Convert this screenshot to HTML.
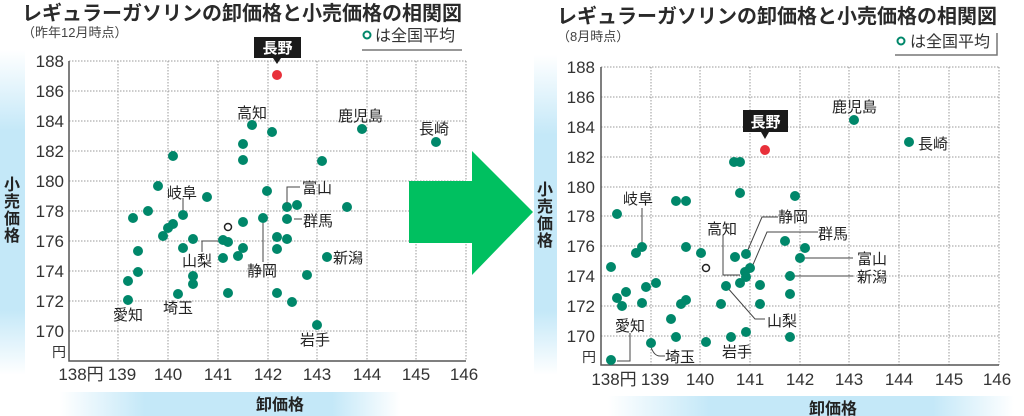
<!DOCTYPE html>
<html><head><meta charset="utf-8"><style>
body{margin:0;background:#fff;width:1024px;height:416px;overflow:hidden}
svg{display:block;font-family:"Liberation Sans","Noto Sans CJK JP",sans-serif}
.t{font-size:20px;font-weight:bold;fill:#2a2a2a}
.s{font-size:13px;fill:#444}
.tk{font-size:17px;fill:#333}
.lb{font-size:15px;fill:#222}
.g{stroke:#999;stroke-width:1;stroke-dasharray:1.5 1.5;fill:none}
.ax{stroke:#555;stroke-width:1.5;fill:none}
.ld{stroke:#444;stroke-width:1;fill:none}
.d circle{r:5}
.d{fill:#00876a}
</style></head><body>
<svg width="1024" height="416" viewBox="0 0 1024 416">
<defs>
<linearGradient id="vb" x1="0" y1="0" x2="0" y2="1"><stop offset="0" stop-color="#fff"/><stop offset="0.25" stop-color="#c4e8f8"/><stop offset="0.8" stop-color="#c4e8f8"/><stop offset="1" stop-color="#fff"/></linearGradient>
<linearGradient id="hb" x1="0" y1="0" x2="1" y2="0"><stop offset="0" stop-color="#fff"/><stop offset="0.25" stop-color="#c4e8f8"/><stop offset="0.8" stop-color="#c4e8f8"/><stop offset="1" stop-color="#fff"/></linearGradient>
</defs>
<!-- LEFT -->
<text x="22" y="20" class="t">レギュラーガソリンの卸価格と小売価格の相関図</text>
<text x="22" y="37" class="s">（昨年12月時点）</text>
<circle cx="367" cy="35" r="3.5" fill="none" stroke="#00876a" stroke-width="2"/>
<text x="375" y="41" style="font-size:16px;fill:#333">は全国平均</text>
<line x1="362" y1="50" x2="462" y2="50" stroke="#777" stroke-width="1.5"/>
<rect x="0" y="50" width="25" height="325" fill="url(#vb)"/>
<text x="12" y="190" class="lb" text-anchor="middle" style="font-size:16px;font-weight:bold">小</text>
<text x="12" y="207" class="lb" text-anchor="middle" style="font-size:16px;font-weight:bold">売</text>
<text x="12" y="224" class="lb" text-anchor="middle" style="font-size:16px;font-weight:bold">価</text>
<text x="12" y="241" class="lb" text-anchor="middle" style="font-size:16px;font-weight:bold">格</text>
<rect x="60" y="392" width="340" height="24" fill="url(#hb)"/>
<text x="280" y="410" text-anchor="middle" style="font-size:16px;font-weight:bold;fill:#222">卸価格</text>
<g class="g">
<path d="M69 61H466M69 91H466M69 121H466M69 151H466M69 181H466M69 211H466M69 241H466M69 271H466M69 301H466M69 331H466"/>
<path d="M118 61V361M168 61V361M218 61V361M268 61V361M317 61V361M367 61V361M416 61V361M466 61V361"/>
</g>
<path class="ax" d="M69 61V361H466"/>
<g class="tk" text-anchor="end">
<text x="64" y="67">188</text><text x="64" y="97">186</text><text x="64" y="127">184</text><text x="64" y="157">182</text><text x="64" y="187">180</text><text x="64" y="217">178</text><text x="64" y="247">176</text><text x="64" y="277">174</text><text x="64" y="307">172</text><text x="64" y="337">170</text>
</g>
<text x="52" y="357" class="tk" style="font-size:14px">円</text>
<g class="tk" text-anchor="middle">
<text x="81" y="380">138円</text><text x="122" y="380">139</text><text x="168" y="380">140</text><text x="218" y="380">141</text><text x="268" y="380">142</text><text x="317" y="380">143</text><text x="367" y="380">144</text><text x="416" y="380">145</text><text x="464" y="380">146</text>
</g>
<g class="d">
<circle cx="252" cy="125" r="5"/><circle cx="272" cy="132" r="5"/><circle cx="243" cy="144" r="5"/><circle cx="243" cy="160" r="5"/><circle cx="173" cy="156" r="5"/><circle cx="322" cy="161" r="5"/><circle cx="362" cy="129" r="5"/><circle cx="436" cy="142" r="5"/><circle cx="158" cy="186" r="5"/><circle cx="207" cy="197" r="5"/><circle cx="267" cy="191" r="5"/><circle cx="287" cy="207" r="5"/><circle cx="297" cy="205" r="5"/><circle cx="347" cy="207" r="5"/><circle cx="148" cy="211" r="5"/>
<circle cx="133" cy="218" r="5"/><circle cx="183" cy="215" r="5"/><circle cx="173" cy="224" r="5"/><circle cx="168" cy="228" r="5"/><circle cx="163" cy="236" r="5"/><circle cx="193" cy="239" r="5"/><circle cx="183" cy="248" r="5"/><circle cx="138" cy="251" r="5"/><circle cx="138" cy="272" r="5"/><circle cx="128" cy="281" r="5"/><circle cx="128" cy="300" r="5"/><circle cx="193" cy="276" r="5"/><circle cx="193" cy="284" r="5"/><circle cx="178" cy="294" r="5"/><circle cx="228" cy="293" r="5"/><circle cx="223" cy="240" r="5"/><circle cx="228" cy="242" r="5"/><circle cx="243" cy="222" r="5"/><circle cx="243" cy="248" r="5"/><circle cx="238" cy="256" r="5"/><circle cx="223" cy="258" r="5"/><circle cx="263" cy="218" r="5"/><circle cx="287" cy="219" r="5"/><circle cx="277" cy="237" r="5"/><circle cx="287" cy="239" r="5"/><circle cx="277" cy="249" r="5"/><circle cx="327" cy="257" r="5"/><circle cx="307" cy="275" r="5"/><circle cx="277" cy="293" r="5"/><circle cx="292" cy="302" r="5"/><circle cx="317" cy="325" r="5"/>
</g>
<circle cx="228" cy="227" r="3.5" fill="#fff" stroke="#222" stroke-width="1.5"/>
<circle cx="277" cy="75" r="5" fill="#e8303a"/>
<rect x="254" y="37" width="47" height="21" fill="#1a1a1a"/><path d="M273 58L277 64L281 58Z" fill="#1a1a1a"/>
<text x="277.5" y="53" text-anchor="middle" style="font-size:15px;font-weight:bold;fill:#fff">長野</text>
<g class="ld"><path d="M287 203V187H300"/><path d="M294 219H302"/><path d="M202 252V241H218"/><path d="M263 223V262"/><path d="M183 198V210"/></g>
<g class="lb">
<text x="237" y="118">高知</text><text x="338" y="121">鹿児島</text><text x="419" y="134">長崎</text><text x="167" y="198">岐阜</text><text x="302" y="193">富山</text><text x="303" y="226">群馬</text><text x="182" y="266">山梨</text><text x="247" y="276">静岡</text><text x="333" y="263">新潟</text><text x="113" y="320">愛知</text><text x="163" y="313">埼玉</text><text x="300" y="345">岩手</text>
</g>
<!-- ARROW -->
<path d="M409 181H472V151L533 212L472 275V243H409Z" fill="#00c060"/>
<!-- RIGHT -->
<text x="557" y="23" class="t">レギュラーガソリンの卸価格と小売価格の相関図</text>
<text x="557" y="41" class="s">（8月時点）</text>
<circle cx="901" cy="41" r="3.5" fill="none" stroke="#00876a" stroke-width="2"/>
<text x="910" y="47" style="font-size:16px;fill:#333">は全国平均</text>
<path d="M895 55H997V33" stroke="#777" stroke-width="1.5" fill="none"/>
<rect x="534" y="55" width="23" height="320" fill="url(#vb)"/>
<text x="545" y="195" class="lb" text-anchor="middle" style="font-size:16px;font-weight:bold">小</text>
<text x="545" y="212" class="lb" text-anchor="middle" style="font-size:16px;font-weight:bold">売</text>
<text x="545" y="229" class="lb" text-anchor="middle" style="font-size:16px;font-weight:bold">価</text>
<text x="545" y="246" class="lb" text-anchor="middle" style="font-size:16px;font-weight:bold">格</text>
<rect x="608" y="396" width="406" height="20" fill="url(#hb)"/>
<text x="833" y="414" text-anchor="middle" style="font-size:16px;font-weight:bold;fill:#222">卸価格</text>
<g class="g">
<path d="M601 67H999M601 97H999M601 127H999M601 157H999M601 187H999M601 216H999M601 246H999M601 276H999M601 306H999M601 336H999"/>
<path d="M651 67V365M700 67V365M750 67V365M800 67V365M849 67V365M899 67V365M949 67V365M999 67V365"/>
</g>
<path class="ax" d="M601 67V365H999"/>
<g class="tk" text-anchor="end">
<text x="595" y="73">188</text><text x="595" y="103">186</text><text x="595" y="133">184</text><text x="595" y="163">182</text><text x="595" y="193">180</text><text x="595" y="222">178</text><text x="595" y="252">176</text><text x="595" y="282">174</text><text x="595" y="312">172</text><text x="595" y="342">170</text>
</g>
<text x="582" y="362" class="tk" style="font-size:14px">円</text>
<g class="tk" text-anchor="middle">
<text x="614" y="385">138円</text><text x="655" y="385">139</text><text x="700" y="385">140</text><text x="750" y="385">141</text><text x="800" y="385">142</text><text x="849" y="385">143</text><text x="899" y="385">144</text><text x="949" y="385">145</text><text x="997" y="385">146</text>
</g>
<g class="ld">
<path d="M642 208V247"/><path d="M723 235V275H740"/><path d="M778 217H762L747 252"/><path d="M818 232H767L752 267"/><path d="M805 258H853"/><path d="M793 276H853"/><path d="M726 286L755 319H765"/><path d="M630 333V361H617"/><path d="M651 347Q654 356 660 356H665"/>
</g>
<g class="d">
<circle cx="854" cy="120" r="5"/><circle cx="909" cy="142" r="5"/><circle cx="734" cy="162" r="5"/><circle cx="740" cy="162" r="5"/><circle cx="740" cy="193" r="5"/><circle cx="795" cy="196" r="5"/><circle cx="676" cy="201" r="5"/><circle cx="686" cy="201" r="5"/>
<circle cx="617" cy="214" r="5"/><circle cx="642" cy="247" r="5"/><circle cx="636" cy="253" r="5"/><circle cx="611" cy="267" r="5"/><circle cx="617" cy="298" r="5"/><circle cx="622" cy="306" r="5"/><circle cx="626" cy="292" r="5"/><circle cx="642" cy="303" r="5"/><circle cx="646" cy="287" r="5"/><circle cx="656" cy="283" r="5"/><circle cx="686" cy="247" r="5"/><circle cx="701" cy="253" r="5"/><circle cx="735" cy="257" r="5"/><circle cx="746" cy="254" r="5"/><circle cx="745" cy="272" r="5"/><circle cx="750" cy="268" r="5"/><circle cx="746" cy="277" r="5"/><circle cx="740" cy="283" r="5"/><circle cx="760" cy="285" r="5"/><circle cx="726" cy="286" r="5"/><circle cx="721" cy="304" r="5"/><circle cx="760" cy="304" r="5"/><circle cx="686" cy="300" r="5"/><circle cx="681" cy="304" r="5"/><circle cx="671" cy="319" r="5"/><circle cx="676" cy="337" r="5"/><circle cx="651" cy="343" r="5"/><circle cx="611" cy="360" r="5"/><circle cx="706" cy="342" r="5"/><circle cx="731" cy="337" r="5"/><circle cx="746" cy="332" r="5"/><circle cx="790" cy="337" r="5"/><circle cx="790" cy="294" r="5"/><circle cx="790" cy="276" r="5"/><circle cx="800" cy="258" r="5"/><circle cx="805" cy="248" r="5"/><circle cx="785" cy="241" r="5"/>
</g>
<circle cx="706" cy="268" r="3.5" fill="#fff" stroke="#222" stroke-width="1.5"/>
<circle cx="765" cy="150" r="5" fill="#e8303a"/>
<rect x="743" y="110" width="45" height="22" fill="#1a1a1a"/><path d="M761 132L765 139L769 132Z" fill="#1a1a1a"/>
<text x="765.5" y="127" text-anchor="middle" style="font-size:15px;font-weight:bold;fill:#fff">長野</text>
<g class="lb">
<text x="832" y="112">鹿児島</text><text x="918" y="149">長崎</text><text x="623" y="204">岐阜</text><text x="707" y="234">高知</text><text x="778" y="222">静岡</text><text x="818" y="239">群馬</text><text x="857" y="264">富山</text><text x="857" y="282">新潟</text><text x="767" y="326">山梨</text><text x="615" y="331">愛知</text><text x="665" y="362">埼玉</text><text x="722" y="357">岩手</text>
</g>
</svg>
</body></html>
